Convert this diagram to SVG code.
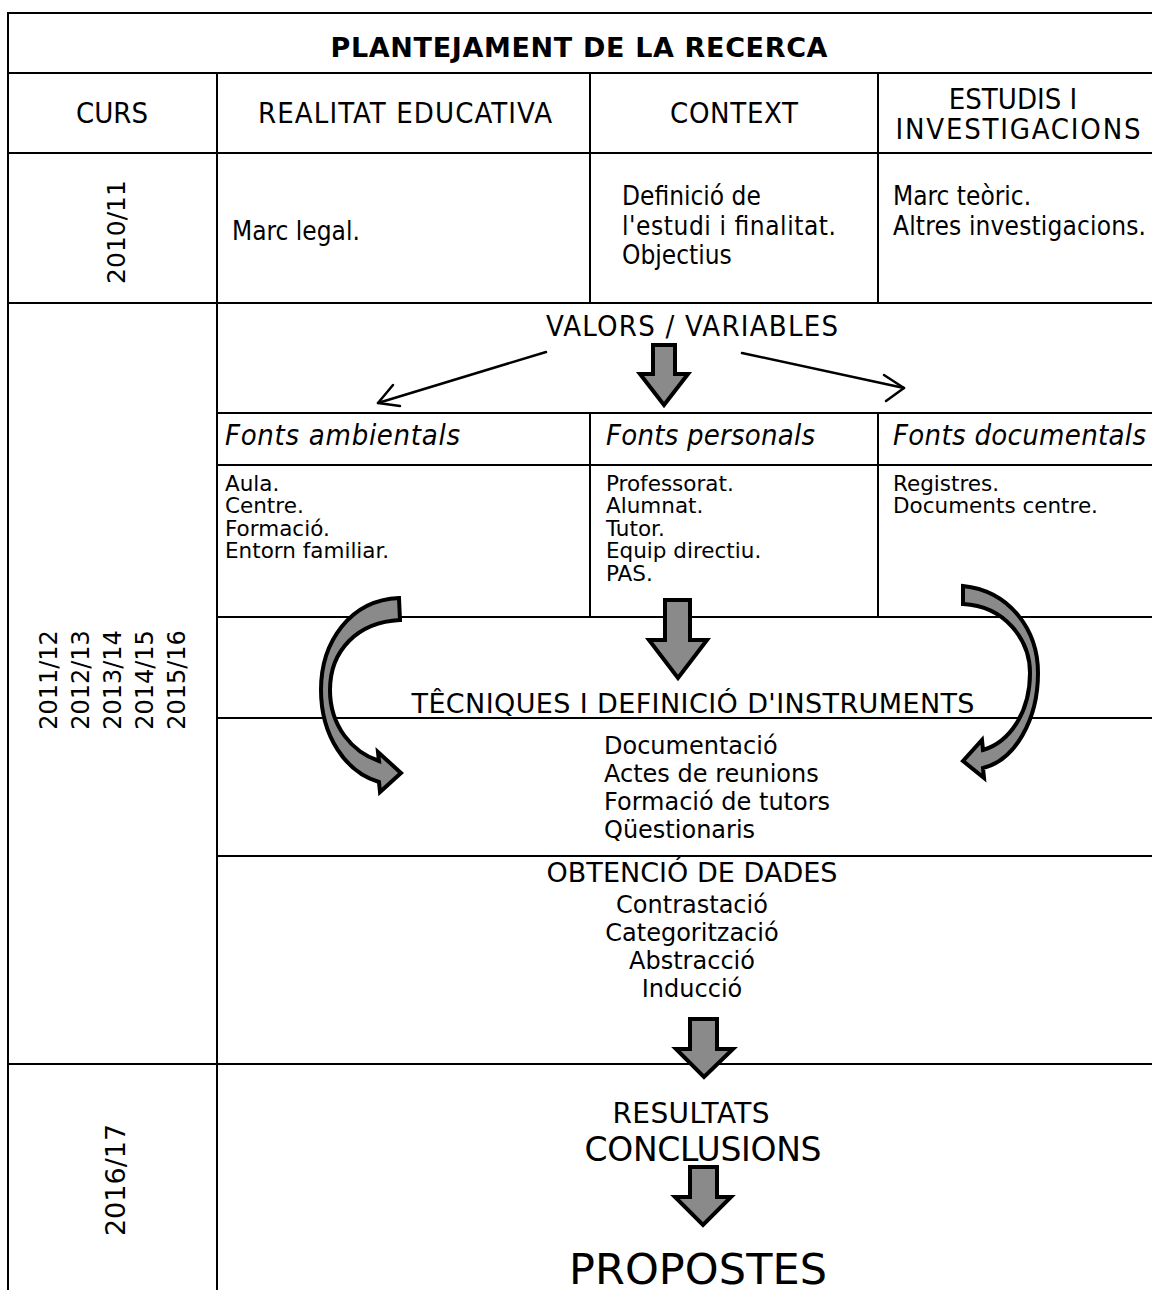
<svg xmlns="http://www.w3.org/2000/svg" width="1152" height="1290" viewBox="0 0 1152 1290">
  <style>
    .grid { stroke: #000; stroke-width: 2; fill: none; }
    .t { font-family: "DejaVu Sans", "Liberation Sans", sans-serif; fill: #000; }
    .n { font-family: "DejaVu Sans Condensed", "DejaVu Sans", sans-serif; font-stretch: condensed; fill: #000; }
    .c { text-anchor: middle; }
    .list { font-family: "DejaVu Sans", "Liberation Sans", sans-serif; font-size: 21.5px; fill: #000; }
    .block { fill: #8a8a8a; stroke: #000; stroke-width: 4; stroke-linejoin: miter; }
    .thin { stroke: #000; stroke-width: 2.5; fill: none; stroke-linecap: round; stroke-linejoin: round; }
  </style>
  <rect width="1152" height="1290" fill="#fff"/>

  <!-- table rules -->
  <g id="table" class="grid">
    <line x1="8" y1="13" x2="1152" y2="13"/>
    <line x1="8" y1="73" x2="1152" y2="73"/>
    <line x1="8" y1="153" x2="1152" y2="153"/>
    <line x1="8" y1="303" x2="1152" y2="303"/>
    <line x1="217" y1="413" x2="1152" y2="413"/>
    <line x1="217" y1="465" x2="1152" y2="465"/>
    <line x1="217" y1="617" x2="1152" y2="617"/>
    <line x1="217" y1="718" x2="1152" y2="718"/>
    <line x1="217" y1="856" x2="1152" y2="856"/>
    <line x1="8" y1="1064" x2="1152" y2="1064"/>
    <line x1="8" y1="12" x2="8" y2="1290"/>
    <line x1="217" y1="73" x2="217" y2="1290"/>
    <line x1="590" y1="73" x2="590" y2="303"/>
    <line x1="878" y1="73" x2="878" y2="303"/>
    <line x1="590" y1="413" x2="590" y2="617"/>
    <line x1="878" y1="413" x2="878" y2="617"/>
  </g>

  <g id="title">
    <text class="t c" x="579" y="57" font-size="27" font-weight="bold" textLength="497">PLANTEJAMENT DE LA RECERCA</text>
  </g>

  <g id="header">
    <text class="n c" x="112" y="123" font-size="29">CURS</text>
    <text class="n c" x="405" y="123" font-size="29" textLength="294">REALITAT EDUCATIVA</text>
    <text class="n c" x="734" y="123" font-size="29" textLength="128">CONTEXT</text>
    <text class="n c" x="1013" y="109" font-size="29">ESTUDIS I</text>
    <text class="n c" x="1018" y="139" font-size="29" textLength="245">INVESTIGACIONS</text>
  </g>

  <g id="row-2010">
    <text class="t c" transform="translate(125,232) rotate(-90)" font-size="25">2010/11</text>
    <text class="n" x="232" y="240" font-size="26">Marc legal.</text>
    <text class="n" x="622" y="205" font-size="26">Definició de</text>
    <text class="n" x="622" y="235" font-size="26" textLength="214">l'estudi i finalitat.</text>
    <text class="n" x="622" y="264" font-size="26">Objectius</text>
    <text class="n" x="893" y="205" font-size="26">Marc teòric.</text>
    <text class="n" x="893" y="235" font-size="26" textLength="253">Altres investigacions.</text>
  </g>

  <g id="years-2011-2016">
    <text class="t c" transform="translate(57,680) rotate(-90)" font-size="24">2011/12</text>
    <text class="t c" transform="translate(89,680) rotate(-90)" font-size="24">2012/13</text>
    <text class="t c" transform="translate(121,680) rotate(-90)" font-size="24">2013/14</text>
    <text class="t c" transform="translate(153,680) rotate(-90)" font-size="24">2014/15</text>
    <text class="t c" transform="translate(185,680) rotate(-90)" font-size="24">2015/16</text>
  </g>

  <g id="valors">
    <text class="n c" x="692" y="336" font-size="29" textLength="292">VALORS / VARIABLES</text>
  </g>

  <g id="fonts-headings" font-style="italic">
    <text class="n" x="225" y="445" font-size="29" textLength="235">Fonts ambientals</text>
    <text class="n" x="606" y="445" font-size="29" textLength="209">Fonts personals</text>
    <text class="n" x="893" y="445" font-size="29" textLength="253">Fonts documentals</text>
  </g>

  <g id="fonts-ambientals" class="list">
    <text x="225" y="491">Aula.</text>
    <text x="225" y="513">Centre.</text>
    <text x="225" y="536">Formació.</text>
    <text x="225" y="558">Entorn familiar.</text>
  </g>
  <g id="fonts-personals" class="list">
    <text x="606" y="491">Professorat.</text>
    <text x="606" y="513">Alumnat.</text>
    <text x="606" y="536">Tutor.</text>
    <text x="606" y="558">Equip directiu.</text>
    <text x="606" y="581">PAS.</text>
  </g>
  <g id="fonts-documentals" class="list">
    <text x="893" y="491">Registres.</text>
    <text x="893" y="513">Documents centre.</text>
  </g>

  <g id="tecniques">
    <text class="t c" x="693" y="713" font-size="27" textLength="563">TÊCNIQUES I DEFINICIÓ D'INSTRUMENTS</text>
  </g>
  <g id="instruments">
    <text class="t" x="604" y="754" font-size="24">Documentació</text>
    <text class="t" x="604" y="782" font-size="24">Actes de reunions</text>
    <text class="t" x="604" y="810" font-size="24">Formació de tutors</text>
    <text class="t" x="604" y="838" font-size="24">Qüestionaris</text>
  </g>

  <g id="obtencio">
    <text class="t c" x="692" y="882" font-size="27" textLength="291">OBTENCIÓ DE DADES</text>
    <text class="t c" x="692" y="913" font-size="24">Contrastació</text>
    <text class="t c" x="692" y="941" font-size="24">Categorització</text>
    <text class="t c" x="692" y="969" font-size="24">Abstracció</text>
    <text class="t c" x="692" y="997" font-size="24">Inducció</text>
  </g>

  <g id="year-2016">
    <text class="t c" transform="translate(125,1180) rotate(-90)" font-size="27">2016/17</text>
  </g>

  <g id="resultats">
    <text class="t c" x="691" y="1123" font-size="28" textLength="157">RESULTATS</text>
    <text class="t c" x="703" y="1161" font-size="33" textLength="237">CONCLUSIONS</text>
  </g>
  <g id="propostes">
    <text class="t c" x="698" y="1284" font-size="43" textLength="258">PROPOSTES</text>
  </g>

  <!-- connectors -->
  <g id="connectors">
    <!-- thin arrows out of VALORS / VARIABLES -->
    <path class="thin" d="M546,352 L378,403"/>
    <path class="thin" d="M393,385 L378,403 L400,406"/>
    <path class="thin" d="M742,353 L904,388"/>
    <path class="thin" d="M884,375 L904,388 L886,401"/>

    <!-- straight block arrows -->
    <path class="block" d="M653,345 L675,345 L675,374 L688,374 L664,405 L640,374 L653,374 Z"/>
    <path class="block" d="M665,600 L690,600 L690,640 L707,640 L678,678 L649,640 L665,640 Z"/>
    <path class="block" d="M690,1019 L717,1019 L717,1049 L733,1049 L704,1077 L676,1049 L690,1049 Z"/>
    <path class="block" d="M690,1167 L717,1167 L717,1197 L731,1197 L703,1225 L675,1197 L690,1197 Z"/>

    <!-- curved arrows -->
    <path class="block" d="M399,598 C350,600 321,642 321,690 C321,735 345,772 379,782 L380,792 L401,773 L378,752 L379,761 C352,752 330,726 330,690 C330,650 358,622 400,620 Z"/>
    <path class="block" d="M963,586 C1010,591 1038,630 1038,673 C1038,720 1015,760 983,768 L984,778 L963,761 L982,740 L983,750 C1010,742 1030,712 1030,673 C1030,640 1005,606 963,604 Z"/>
  </g>
</svg>
